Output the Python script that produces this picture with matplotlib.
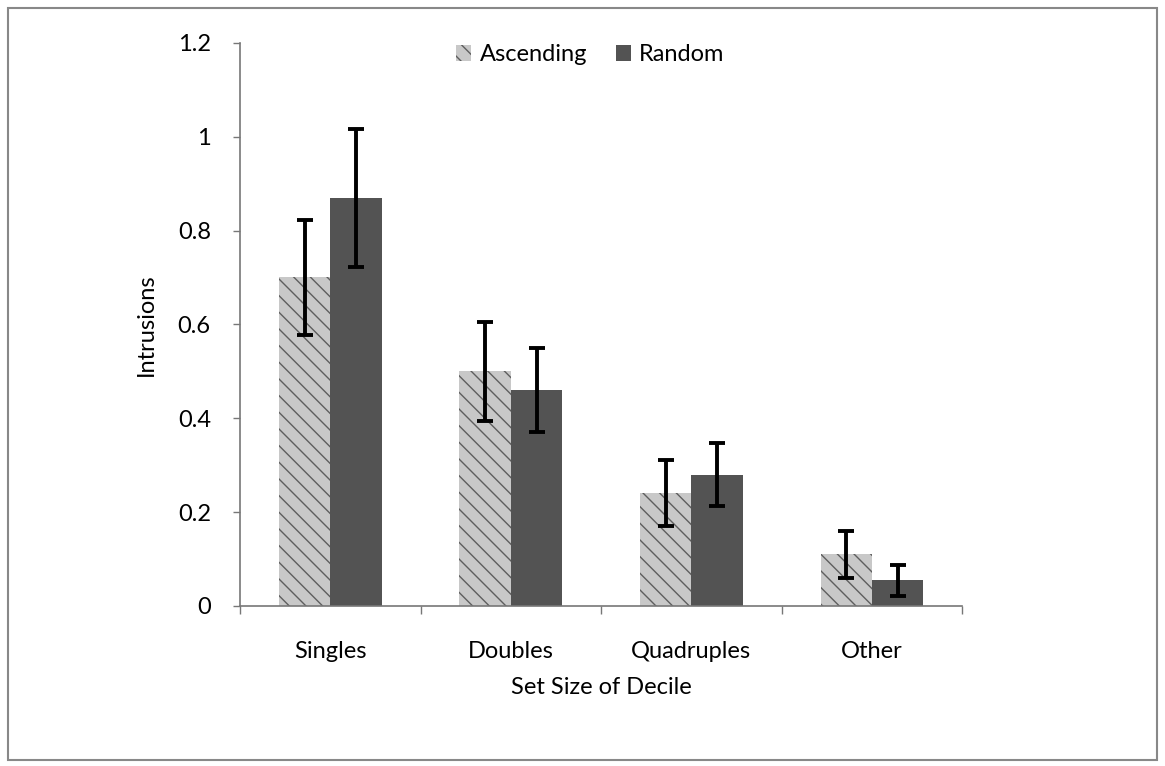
import matplotlib
matplotlib.use("Agg")
import matplotlib.pyplot as plt
import numpy as np
from matplotlib.patches import Rectangle

plt.rcParams['font.family'] = ['Lato', 'DejaVu Sans']

categories = ["Singles", "Doubles", "Quadruples", "Other"]
ascending = [0.70, 0.50, 0.24, 0.11]
ascending_err = [0.123, 0.105, 0.07, 0.05]
random_vals = [0.87, 0.46, 0.28, 0.055]
random_err = [0.147, 0.09, 0.067, 0.033]
series_names = ["Ascending", "Random"]
yticks = [0, 0.2, 0.4, 0.6, 0.8, 1, 1.2]
ytick_labels = ["0", "0.2", "0.4", "0.6", "0.8", "1", "1.2"]

FS = 17

fig = plt.figure(figsize=(11.65, 7.66), dpi=100)
ax = fig.add_axes([0.206, 0.209, 0.620, 0.735])

x = np.arange(len(categories))
w = 0.285

ax.bar(x - w / 2, ascending, w, color="#c8c8c8", edgecolor="#5e5e5e",
       linewidth=0, hatch="\\\\", label=series_names[0], zorder=2)
ax.bar(x + w / 2, random_vals, w, color="#535353", edgecolor="#3a3a3a",
       linewidth=0, label=series_names[1], zorder=2)

ax.errorbar(x - w / 2, ascending, yerr=ascending_err, fmt="none", ecolor="black",
            elinewidth=2.8, capsize=6, capthick=2.8, zorder=3)
ax.errorbar(x + w / 2, random_vals, yerr=random_err, fmt="none", ecolor="black",
            elinewidth=2.8, capsize=6, capthick=2.8, zorder=3)

ax.set_xlim(-0.5, 3.5)
ax.set_ylim(0, 1.2)
ax.set_yticks(yticks)
ax.set_yticklabels(ytick_labels)
ax.set_xticks(x)
ax.set_xticklabels(categories)
ax.set_xticks(np.arange(-0.5, 4.0, 1.0), minor=True)
ax.tick_params(axis="x", which="major", length=0, pad=25, labelsize=FS)
ax.tick_params(axis="x", which="minor", length=6, width=1, color="#777777", direction="out")
ax.tick_params(axis="y", length=5, width=1, color="#777777", direction="out", labelsize=FS, pad=16)

for s in ["top", "right"]:
    ax.spines[s].set_visible(False)
for s in ["left", "bottom"]:
    ax.spines[s].set_color("#777777")
    ax.spines[s].set_linewidth(1.2)

ax.set_ylabel("Intrusions", fontsize=FS, labelpad=15)
ax.set_xlabel("Set Size of Decile", fontsize=FS, labelpad=11)

ax.legend(loc="upper center", bbox_to_anchor=(0.485, 1.035), ncol=2, frameon=False,
          fontsize=FS, handlelength=0.65, handleheight=0.65, handletextpad=0.35,
          columnspacing=1.2)

fig.patches.append(Rectangle((0.007, 0.008), 0.986, 0.982, transform=fig.transFigure,
                             fill=False, edgecolor="#888888", linewidth=1.5))

fig.savefig("out.png", dpi=100)
